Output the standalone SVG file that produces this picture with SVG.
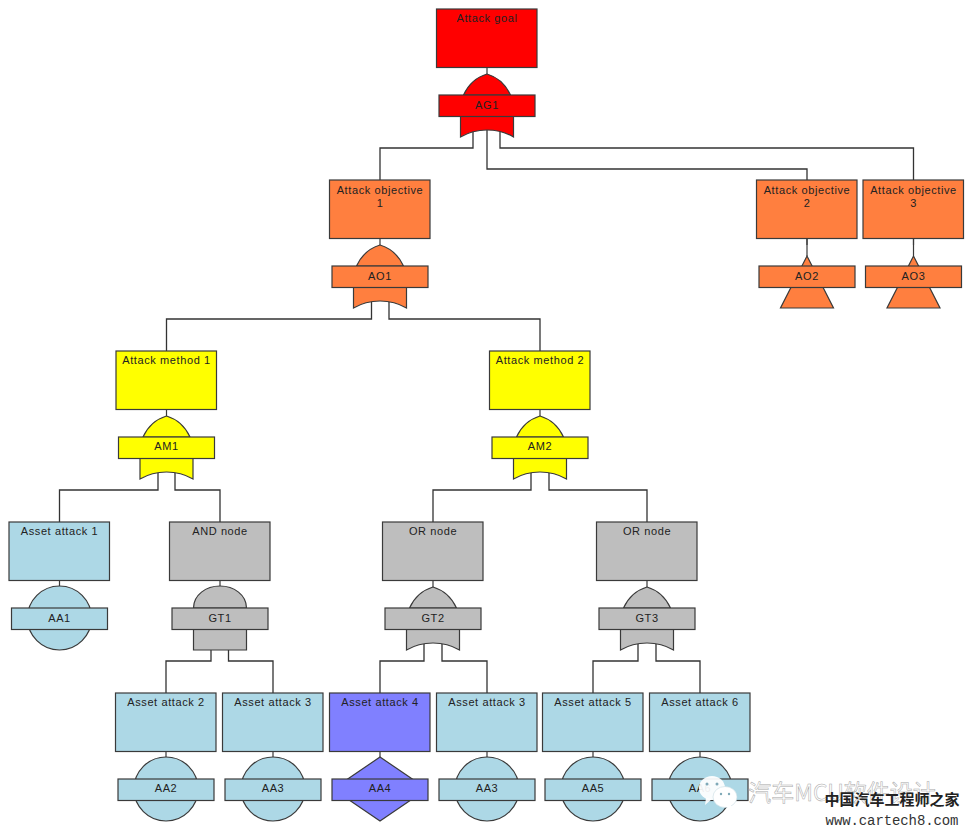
<svg xmlns="http://www.w3.org/2000/svg" xmlns:xlink="http://www.w3.org/1999/xlink" width="970" height="836" viewBox="0 0 970 836">
<style>
text{font-family:"Liberation Sans",Arial,sans-serif;font-size:11px;letter-spacing:.6px;fill:#222;text-anchor:middle}
.n *{stroke:#3a3a3a;stroke-width:1.2}
.n text{stroke:none}
.c path{fill:none;stroke:#333;stroke-width:1.3}
.red{fill:#ff0000}.org{fill:#ff7f3f}.yel{fill:#ffff00}.blu{fill:#add8e6}.gry{fill:#bebebe}.pur{fill:#8080ff}
</style>
<defs>
<g id="box"><rect x="-50.5" y="0" width="100.5" height="58.5"/><path d="M0,58.5V65" fill="none"/></g>
<rect id="lab" x="-48" y="86" width="96" height="21.5"/>
<path id="or" d="M-23.5,86C-18,74-10,68 0,65C10,68 18,74 23.5,86ZM-26.5,107.5V128C-18,123-9,121 0,121C9,121 18,123 26.5,128V107.5Z"/>
<path id="and" d="M-26.5,86C-26.5,73-14,64 0,64C14,64 26.5,73 26.5,86ZM-26.5,107.5V128H26.5V107.5Z"/>
<circle id="cir" cx="0" cy="96" r="32"/>
<path id="dia" d="M0,64L47,96L0,128L-47,96Z"/>
<path id="tri" d="M0,76L26.5,128H-26.5Z"/>
<path id="stem" d="M0,58.5V76" fill="none"/>
</defs>

<g id="connectors" class="c">
<path d="M473,130V148H380V180"/>
<path d="M487,130V169H807V180"/>
<path d="M500,130V148H913.5V180"/>
<path d="M371.5,301V319H166.5V351"/>
<path d="M389,301V319H540V351"/>
<path d="M158,472V490H59.5V522"/>
<path d="M175,472V490H220V522"/>
<path d="M531,472V490H433V522"/>
<path d="M549,472V490H647V522"/>
<path d="M211,650V661H166V693"/>
<path d="M228.5,650V661H273V693"/>
<path d="M424,643V661H380V693"/>
<path d="M442,643V661H487V693"/>
<path d="M638,643V661H593V693"/>
<path d="M656,643V661H700V693"/>
</g>

<g id="AG1" class="n red" transform="translate(487,9)"><use href="#box"/><use href="#or"/><use href="#lab"/><text y="13">Attack goal</text><text y="100">AG1</text></g>
<g id="AO1" class="n org" transform="translate(380,180)"><use href="#box"/><use href="#or"/><use href="#lab"/><text y="14">Attack objective</text><text y="27">1</text><text y="100">AO1</text></g>
<g id="AO2" class="n org" transform="translate(807,180)"><use href="#box"/><use href="#stem"/><use href="#tri"/><use href="#lab"/><text y="14">Attack objective</text><text y="27">2</text><text y="100">AO2</text></g>
<g id="AO3" class="n org" transform="translate(913.5,180)"><use href="#box"/><use href="#stem"/><use href="#tri"/><use href="#lab"/><text y="14">Attack objective</text><text y="27">3</text><text y="100">AO3</text></g>
<g id="AM1" class="n yel" transform="translate(166.5,351)"><use href="#box"/><use href="#or"/><use href="#lab"/><text y="13">Attack method 1</text><text y="99">AM1</text></g>
<g id="AM2" class="n yel" transform="translate(540,351)"><use href="#box"/><use href="#or"/><use href="#lab"/><text y="13">Attack method 2</text><text y="99">AM2</text></g>
<g id="AA1" class="n blu" transform="translate(59.5,522)"><use href="#box"/><use href="#cir"/><use href="#lab"/><text y="13">Asset attack 1</text><text y="100">AA1</text></g>
<g id="GT1" class="n gry" transform="translate(220,522)"><use href="#box"/><use href="#and"/><use href="#lab"/><text y="13">AND node</text><text y="100">GT1</text></g>
<g id="GT2" class="n gry" transform="translate(433,522)"><use href="#box"/><use href="#or"/><use href="#lab"/><text y="13">OR node</text><text y="100">GT2</text></g>
<g id="GT3" class="n gry" transform="translate(647,522)"><use href="#box"/><use href="#or"/><use href="#lab"/><text y="13">OR node</text><text y="100">GT3</text></g>
<g id="AA2" class="n blu" transform="translate(166,693)"><use href="#box"/><use href="#cir"/><use href="#lab"/><text y="13">Asset attack 2</text><text y="99">AA2</text></g>
<g id="AA3a" class="n blu" transform="translate(273,693)"><use href="#box"/><use href="#cir"/><use href="#lab"/><text y="13">Asset attack 3</text><text y="99">AA3</text></g>
<g id="AA4" class="n pur" transform="translate(380,693)"><use href="#box"/><use href="#dia"/><use href="#lab"/><text y="13">Asset attack 4</text><text y="99">AA4</text></g>
<g id="AA3b" class="n blu" transform="translate(487,693)"><use href="#box"/><use href="#cir"/><use href="#lab"/><text y="13">Asset attack 3</text><text y="99">AA3</text></g>
<g id="AA5" class="n blu" transform="translate(593,693)"><use href="#box"/><use href="#cir"/><use href="#lab"/><text y="13">Asset attack 5</text><text y="99">AA5</text></g>
<g id="AA6" class="n blu" transform="translate(700,693)"><use href="#box"/><use href="#cir"/><use href="#lab"/><text y="13">Asset attack 6</text><text y="99">AA6</text></g>

<g id="watermark">
<ellipse cx="712" cy="788" rx="13" ry="12" fill="#fff" fill-opacity=".92"/>
<path d="M706,798L705,805L712,799Z" fill="#fff" fill-opacity=".92"/>
<ellipse cx="725" cy="797" rx="12" ry="10.5" fill="#fff" stroke="#c8dbe3" stroke-width=".6"/>
<path d="M731,805L733,811L725,806Z" fill="#fff"/>
<circle cx="707" cy="784" r="1.5" fill="#7fa9b8"/><circle cx="717" cy="784" r="1.5" fill="#7fa9b8"/>
<circle cx="721" cy="794" r="1.2" fill="#7fa9b8"/><circle cx="729" cy="794" r="1.2" fill="#7fa9b8"/>
<text x="842" y="801" style="font-family:'Noto Sans CJK SC','Liberation Sans',sans-serif;font-size:23px;letter-spacing:0;fill:#fff;stroke:#a8a8a8;stroke-width:.5">汽车MCU软件设计</text>
<text x="892" y="805" style="font-family:'Noto Sans CJK SC',sans-serif;font-size:15px;font-weight:700;letter-spacing:0;fill:#222">中国汽车工程师之家</text>
<text x="892" y="825" style="font-family:'Liberation Mono',monospace;font-size:14px;letter-spacing:-.1px;fill:#333">www.cartech8.com</text>
</g>
</svg>
